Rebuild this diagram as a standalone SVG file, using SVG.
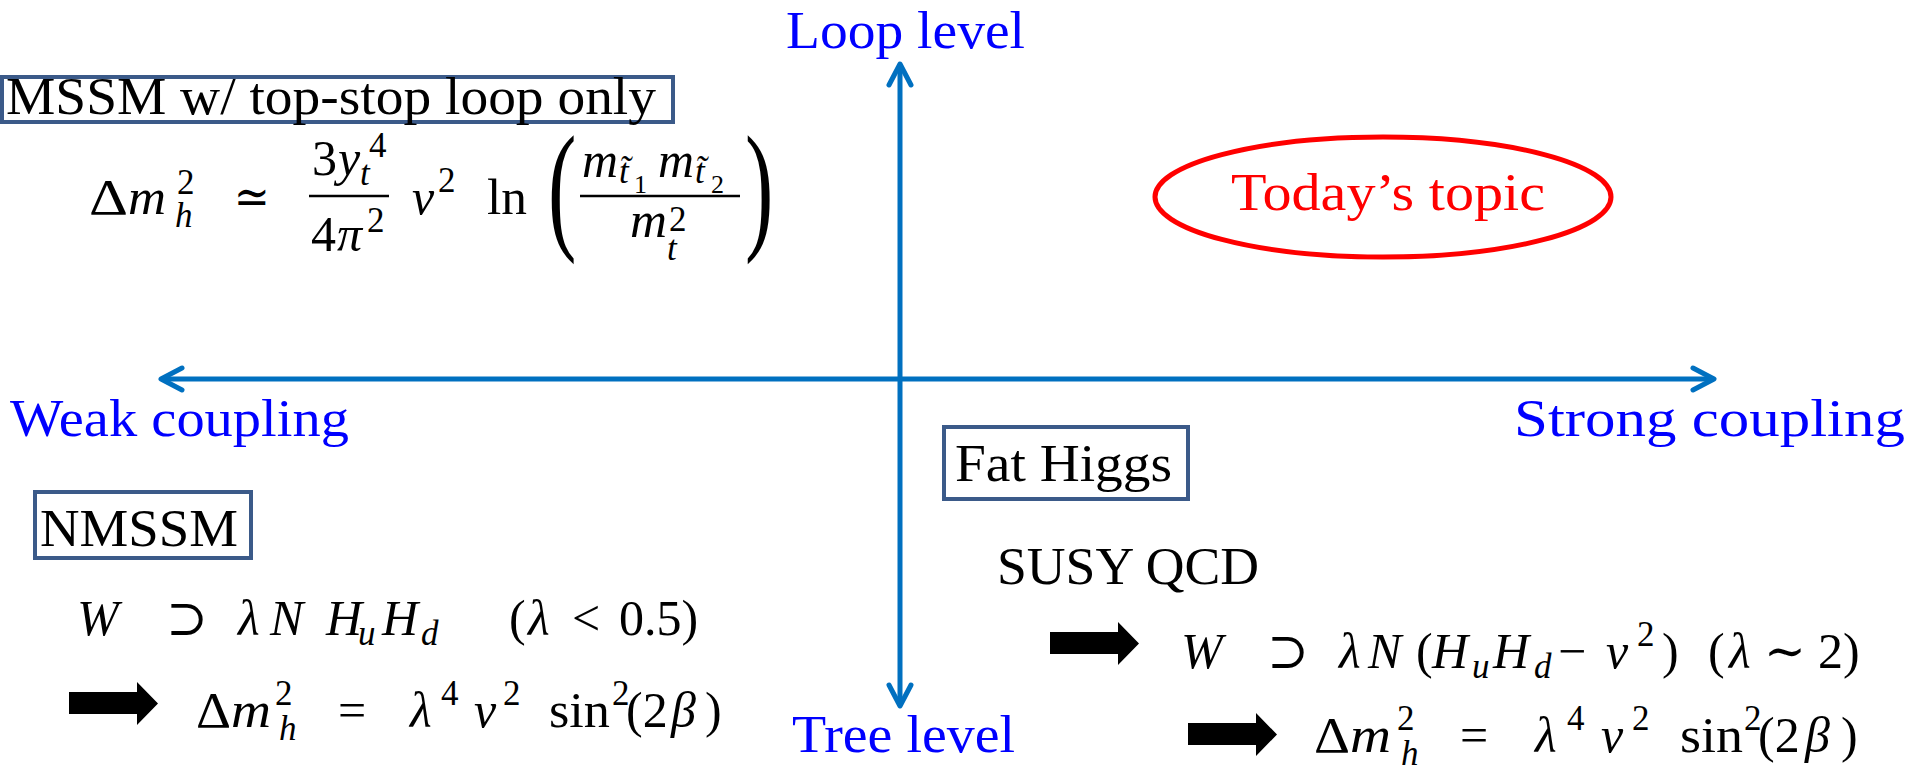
<svg xmlns="http://www.w3.org/2000/svg" width="1915" height="774" viewBox="0 0 1915 774">
<style>
.lbl{font-family:"Liberation Serif",serif;font-size:52px;fill:#0000ff}
.red{font-family:"Liberation Serif",serif;font-size:52px;fill:#ff0000}
.bt{font-family:"Liberation Serif",serif;font-size:52px;fill:#000}
.m{font-family:"Liberation Serif","DejaVu Serif",serif;font-size:50px;fill:#000}
.i{font-style:italic}
.s{font-size:35px}
.ss{font-size:26px}
.box{fill:#fff;stroke:#3b5a89;stroke-width:4}
.ax{stroke:#0070c0;stroke-width:5;fill:none}
.bar{stroke:#000;stroke-width:2.5}
.bp{font-family:"Liberation Serif",serif;font-size:142px;fill:#000}
</style>
<defs>
<marker id="oa" viewBox="0 0 30 30" refX="24" refY="15" markerWidth="30" markerHeight="30" markerUnits="userSpaceOnUse" orient="auto-start-reverse" overflow="visible">
<path d="M3,4 L24,15 L3,26" fill="none" stroke="#0070c0" stroke-width="5" stroke-linecap="round" stroke-linejoin="round"/>
</marker>
<path id="fat" d="M0,10 H68 V0 L89,21.5 L68,43 V32 H0 Z" fill="#000"/>
</defs>

<g id="connectors">
<line class="ax" x1="900" y1="64" x2="900" y2="706" marker-start="url(#oa)" marker-end="url(#oa)"/>
<line class="ax" x1="161" y1="379" x2="1714" y2="379" marker-start="url(#oa)" marker-end="url(#oa)"/>
</g>

<g id="axis-labels">
<text class="lbl" x="786" y="48" textLength="239" lengthAdjust="spacingAndGlyphs">Loop level</text>
<text class="lbl" x="10" y="436" textLength="339" lengthAdjust="spacingAndGlyphs">Weak coupling</text>
<text class="lbl" x="1514" y="436" textLength="391" lengthAdjust="spacingAndGlyphs">Strong coupling</text>
<text class="lbl" x="792" y="752" textLength="223" lengthAdjust="spacingAndGlyphs">Tree level</text>
</g>

<g id="todays-topic">
<ellipse cx="1383" cy="197" rx="228" ry="60" fill="none" stroke="#ff0000" stroke-width="5"/>
<text class="red" x="1231" y="210" textLength="314" lengthAdjust="spacingAndGlyphs">Today’s topic</text>
</g>

<g id="mssm">
<rect class="box" x="2" y="77" width="671" height="45"/>
<text class="bt" x="6" y="114" font-size="41" textLength="650" lengthAdjust="spacingAndGlyphs">MSSM w/ top-stop loop only</text>
</g>

<g id="mssm-formula" transform="translate(0,-6)">
<text class="m" x="89" y="220" textLength="39" lengthAdjust="spacingAndGlyphs">Δ</text>
<text class="m i" x="128" y="220" textLength="38" lengthAdjust="spacingAndGlyphs">m</text>
<text class="m s" x="177" y="200">2</text>
<text class="m s i" x="175" y="233">h</text>
<text class="m" x="234" y="220" textLength="36" lengthAdjust="spacingAndGlyphs">≃</text>
<text class="m" x="312" y="181">3</text>
<text class="m i" x="338" y="181">y</text>
<text class="m s i" x="360" y="191">t</text>
<text class="m s" x="369" y="163">4</text>
<line class="bar" x1="309" y1="202" x2="389" y2="202"/>
<text class="m" x="311" y="257">4</text>
<text class="m i" x="337" y="257">π</text>
<text class="m s" x="367" y="238">2</text>
<text class="m i" x="412" y="220">v</text>
<text class="m s" x="438" y="198">2</text>
<text class="m" x="487" y="220" textLength="40" lengthAdjust="spacingAndGlyphs">ln</text>
<text class="bp" transform="translate(548,240) scale(0.6,1)">(</text>
<text class="m i" x="582" y="183" textLength="36" lengthAdjust="spacingAndGlyphs">m</text>
<text class="m s i" x="619" y="189">t̃</text>
<text class="m ss" x="634" y="199">1</text>
<text class="m i" x="658" y="183" textLength="36" lengthAdjust="spacingAndGlyphs">m</text>
<text class="m s i" x="695" y="189">t̃</text>
<text class="m ss" x="711" y="199">2</text>
<line class="bar" x1="580" y1="202" x2="740" y2="202"/>
<text class="m i" x="630" y="243" textLength="37" lengthAdjust="spacingAndGlyphs">m</text>
<text class="m s" x="669" y="237">2</text>
<text class="m s i" x="667" y="266">t</text>
<text class="bp" transform="translate(745,240) scale(0.6,1)">)</text>
</g>

<g id="nmssm">
<rect class="box" x="35" y="492" width="216" height="66"/>
<text class="bt" x="40" y="546" font-size="52" textLength="198" lengthAdjust="spacingAndGlyphs">NMSSM</text>
</g>

<g id="nmssm-formula">
<text class="m i" x="77" y="635">W</text>
<text class="m" x="166" y="635">⊃</text>
<text class="m i" x="238" y="635">λ</text>
<text class="m i" x="270" y="635">N</text>
<text class="m i" x="326" y="635">H</text>
<text class="m s i" x="358" y="645">u</text>
<text class="m i" x="382" y="635">H</text>
<text class="m s i" x="421" y="645">d</text>
<text class="m" x="509" y="635">(</text>
<text class="m i" x="528" y="635">λ</text>
<text class="m" x="572" y="635">&lt;</text>
<text class="m" x="619" y="635">0.5)</text>
<use href="#fat" x="69" y="682"/>
<text class="m" x="196" y="727" textLength="35" lengthAdjust="spacingAndGlyphs">Δ</text>
<text class="m i" x="231" y="727" textLength="40" lengthAdjust="spacingAndGlyphs">m</text>
<text class="m s" x="275" y="705">2</text>
<text class="m s i" x="279" y="740">h</text>
<text class="m" x="338" y="727">=</text>
<text class="m i" x="410" y="727">λ</text>
<text class="m s" x="441" y="705">4</text>
<text class="m i" x="474" y="727">v</text>
<text class="m s" x="503" y="705">2</text>
<text class="m" x="549" y="727" textLength="61" lengthAdjust="spacingAndGlyphs">sin</text>
<text class="m s" x="612" y="705">2</text>
<text class="m" x="626" y="727">(2</text>
<text class="m i" x="671" y="727">β</text>
<text class="m" x="705" y="727">)</text>
</g>

<g id="fat-higgs">
<rect class="box" x="944" y="427" width="244" height="72"/>
<text class="bt" x="955" y="481" textLength="217" lengthAdjust="spacingAndGlyphs">Fat Higgs</text>
</g>

<g id="fat-higgs-formula">
<text class="bt" x="997" y="584" textLength="262" lengthAdjust="spacingAndGlyphs">SUSY QCD</text>
<use href="#fat" x="1050" y="622"/>
<text class="m i" x="1181" y="668">W</text>
<text class="m" x="1267" y="668">⊃</text>
<text class="m i" x="1339" y="668">λ</text>
<text class="m i" x="1368" y="668">N</text>
<text class="m" x="1416" y="668">(</text>
<text class="m i" x="1432" y="668">H</text>
<text class="m s i" x="1472" y="678">u</text>
<text class="m i" x="1493" y="668">H</text>
<text class="m s i" x="1534" y="678">d</text>
<text class="m" x="1558" y="668">−</text>
<text class="m i" x="1606" y="668">v</text>
<text class="m s" x="1637" y="646">2</text>
<text class="m" x="1662" y="668">)</text>
<text class="m" x="1708" y="668">(</text>
<text class="m i" x="1729" y="668">λ</text>
<text class="m" x="1764" y="668">∼</text>
<text class="m" x="1818" y="668">2)</text>
<use href="#fat" x="1188" y="713"/>
<text class="m" x="1314" y="752" textLength="36" lengthAdjust="spacingAndGlyphs">Δ</text>
<text class="m i" x="1350" y="752" textLength="41" lengthAdjust="spacingAndGlyphs">m</text>
<text class="m s" x="1397" y="730">2</text>
<text class="m s i" x="1401" y="765">h</text>
<text class="m" x="1460" y="752">=</text>
<text class="m i" x="1535" y="752">λ</text>
<text class="m s" x="1567" y="730">4</text>
<text class="m i" x="1601" y="752">v</text>
<text class="m s" x="1632" y="730">2</text>
<text class="m" x="1680" y="752" textLength="63" lengthAdjust="spacingAndGlyphs">sin</text>
<text class="m s" x="1744" y="730">2</text>
<text class="m" x="1758" y="752">(2</text>
<text class="m i" x="1805" y="752">β</text>
<text class="m" x="1841" y="752">)</text>
</g>
</svg>
